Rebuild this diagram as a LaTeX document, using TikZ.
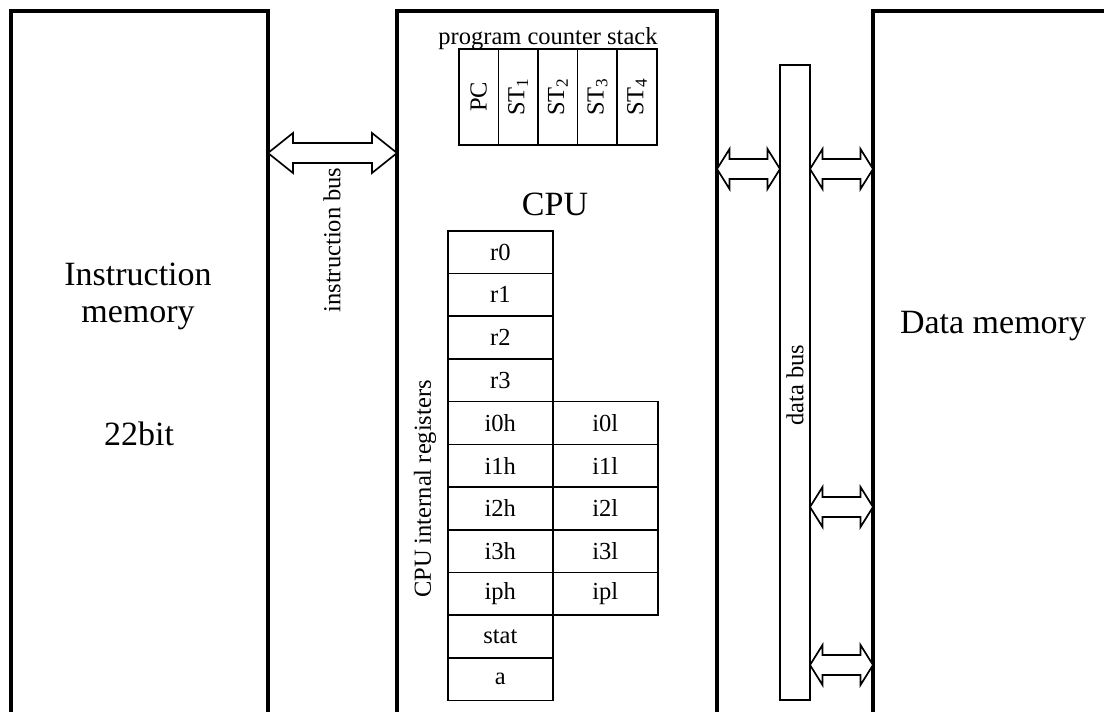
\documentclass[tikz,border=0pt]{standalone}
\usepackage{fontspec}
\setmainfont{Liberation Serif}
\usetikzlibrary{calc}
\tikzset{
  outer/.style={line width=3.4pt},
  cell/.style={draw,line width=1.6pt,minimum width=105pt,minimum height=42.7pt,inner sep=0pt,anchor=north west,font=\smallfont},
  pccell/.style={draw,line width=1.6pt,minimum width=39.6pt,minimum height=96pt,inner sep=0pt,anchor=north west},
  busarrow/.style={draw,line width=1.7pt,fill=white,line join=miter},
  bar/.style={draw,line width=1.5pt},
  lbl/.style={inner sep=0pt}
}
\newcommand\smallfont{\fontsize{24.5}{28}\selectfont}
\newcommand\bigfont{\fontsize{34}{40}\selectfont}
\newcommand\busarrowdraw[3]{%
  \draw[busarrow] (#1) -- ($(#1)+(#3,20)$) -- ($(#1)+(#3,10)$) -- ($(#2)+(-#3,10)$) -- ($(#2)+(-#3,20)$) -- (#2)
    -- ($(#2)+(-#3,-20)$) -- ($(#2)+(-#3,-10)$) -- ($(#1)+(#3,-10)$) -- ($(#1)+(#3,-20)$) -- cycle;}
\begin{document}
\begin{tikzpicture}[x=1pt,y=-1pt]
\useasboundingbox (0,0) rectangle (1104,712);
% big boxes (open at bottom)
\draw[outer] (11,712) -- (11,11) -- (268,11) -- (268,712);
\draw[outer] (397,712) -- (397,11) -- (717,11) -- (717,712);
\draw[outer] (873,712) -- (873,11) -- (1110,11);
% labels of memories
\node[lbl,anchor=base,font=\bigfont] (im1) at (138,285) {Instruction};
\node[lbl,anchor=base,font=\bigfont] (im2) at (138,322) {memory};
\node[lbl,anchor=base,font=\bigfont] (im3) at (139,445) {22bit};
\node[lbl,anchor=base,font=\bigfont] (dm) at (993,333) {Data memory};
\node[lbl,anchor=base,font=\bigfont] (cpu) at (555,215) {CPU};
% program counter stack
\node[lbl,anchor=base,font=\smallfont] (pcs) at (548,45) {program counter stack};
\node[pccell] (pc) at (458,48) {\rotatebox{90}{\smallfont PC}};
\node[pccell] (st1) at (497.6,48) {\rotatebox{90}{\smallfont ST\textsubscript{1}}};
\node[pccell] (st2) at (537.2,48) {\rotatebox{90}{\smallfont ST\textsubscript{2}}};
\node[pccell] (st3) at (576.8,48) {\rotatebox{90}{\smallfont ST\textsubscript{3}}};
\node[pccell] (st4) at (616.4,48) {\rotatebox{90}{\smallfont ST\textsubscript{4}}};
% registers
\node[cell] (r0) at (447,230) {r0};
\node[cell] (r1) at (447,272.7) {r1};
\node[cell] (r2) at (447,315.4) {r2};
\node[cell] (r3) at (447,358.1) {r3};
\node[cell] (i0h) at (447,400.8) {i0h};
\node[cell] (i1h) at (447,443.5) {i1h};
\node[cell] (i2h) at (447,486.2) {i2h};
\node[cell] (i3h) at (447,528.9) {i3h};
\node[cell] (iph) at (447,571.6) {iph};
\node[cell] (stat) at (447,614.3) {stat};
\node[cell] (a) at (447,657) {a};
\node[cell] (i0l) at (552,400.8) {i0l};
\node[cell] (i1l) at (552,443.5) {i1l};
\node[cell] (i2l) at (552,486.2) {i2l};
\node[cell] (i3l) at (552,528.9) {i3l};
\node[cell] (ipl) at (552,571.6) {ipl};
\node[lbl,rotate=90,font=\smallfont] (cir) at (425,489) {CPU internal registers};
% instruction bus
\coordinate (ibl) at (268,153);
\coordinate (ibr) at (397,153);
\busarrowdraw{ibl}{ibr}{25}
\node[lbl,rotate=90,font=\smallfont] (ibus) at (332,240) {instruction bus};
% data bus
\draw[bar] (780,65) rectangle (810,700);
\node[lbl,rotate=90,font=\smallfont] (dbus) at (795,385) {data bus};
\coordinate (c1) at (717,169);
\coordinate (b1) at (780,169);
\coordinate (b2) at (810,169);
\coordinate (m1) at (873,169);
\coordinate (b3) at (810,507);
\coordinate (m3) at (873,507);
\coordinate (b4) at (810,665);
\coordinate (m4) at (873,665);
\busarrowdraw{c1}{b1}{12.5}
\busarrowdraw{b2}{m1}{12.5}
\busarrowdraw{b3}{m3}{12.5}
\busarrowdraw{b4}{m4}{12.5}
\end{tikzpicture}
\end{document}
